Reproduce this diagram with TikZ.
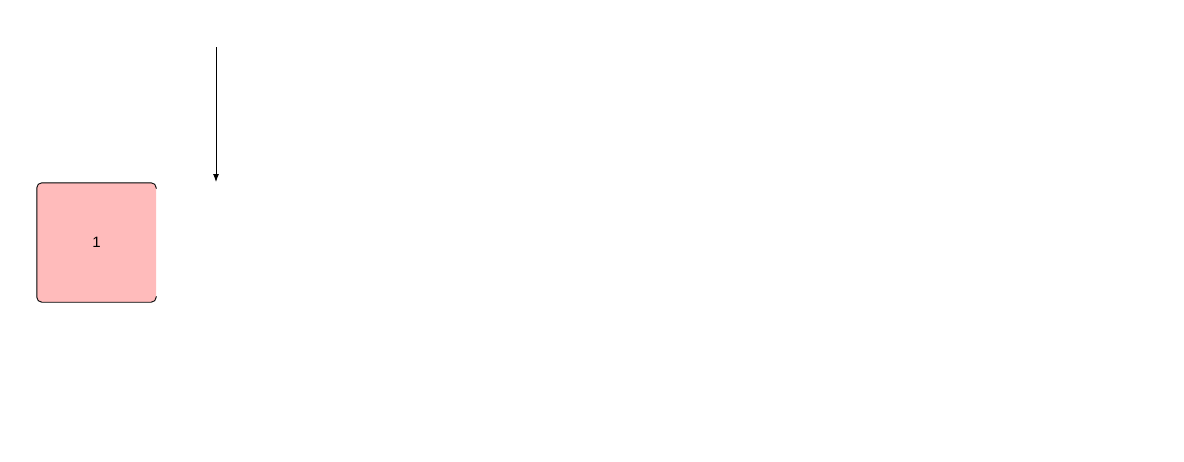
\documentclass[tikz,border=0pt]{standalone}
\usepackage{fontspec}
\setmainfont{Liberation Sans}
\usetikzlibrary{arrows.meta}
\definecolor{pinkfill}{RGB}{255,187,187}
\tikzset{
  boxnode/.style={fill=pinkfill, minimum width=119pt, minimum height=119pt, rounded corners=5pt, inner sep=0pt, font=\fontsize{15}{18}\selectfont},
  boxedge/.style={draw=black, line width=0.9pt, rounded corners=5pt},
  arrowline/.style={draw=black, line width=0.9pt, -{Latex[length=8pt,width=6pt]}}
}
\begin{document}
\begin{tikzpicture}[x=1pt,y=-1pt]
\useasboundingbox (0,0) rectangle (1184,461);
\node[boxnode] (n1) at (96.5,242.5) {1};
\draw[boxedge] ([yshift=-6pt]n1.north east) -- (n1.north east) -- (n1.north west) -- (n1.south west) -- (n1.south east) -- ([yshift=6pt]n1.south east);
\coordinate (a0) at (216,47);
\coordinate (a1) at (216,182);
\draw[arrowline] (a0) -- (a1);
\end{tikzpicture}
\end{document}
